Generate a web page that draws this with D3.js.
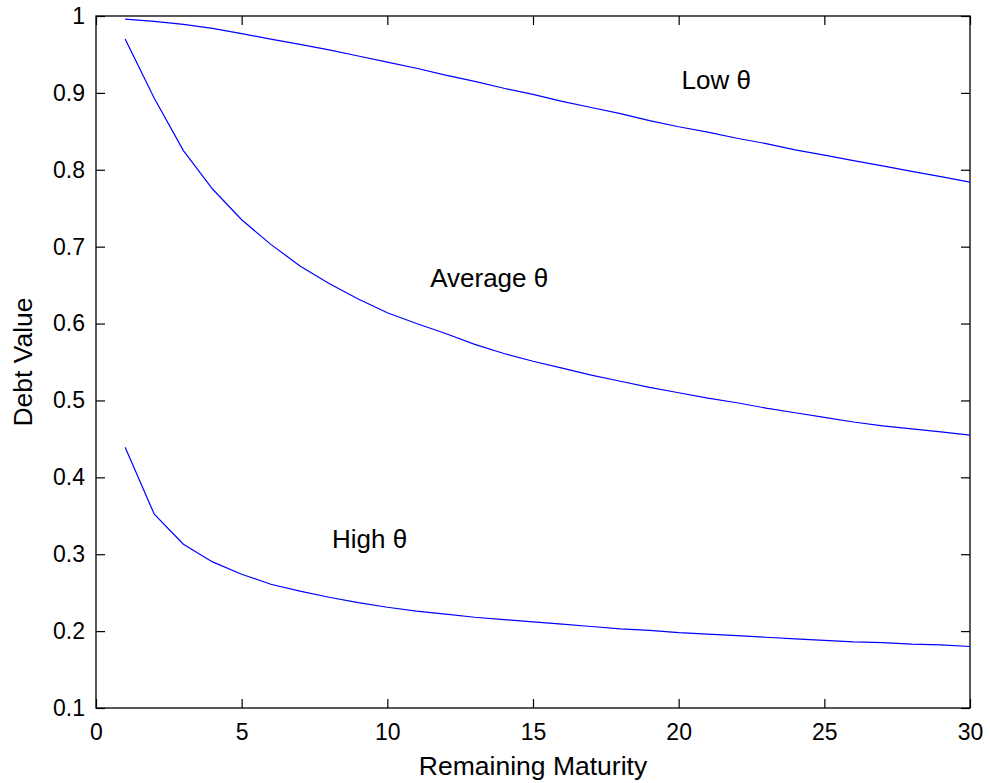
<!DOCTYPE html>
<html>
<head>
<meta charset="utf-8">
<script src="https://cdn.jsdelivr.net/npm/d3@7"></script>
<style>
  html, body { margin: 0; padding: 0; background: #fff; }
  svg { display: block; font-family: "Liberation Sans", Arial, sans-serif; }
</style>
</head>
<body>
<div id="chart"></div>
<script>
// remaining maturity (years)
const maturity = d3.range(1, 31);

// debt value for each theta level
const lowTheta = [0.996, 0.993, 0.989, 0.984, 0.977, 0.970, 0.963, 0.956, 0.948, 0.940,
                  0.932, 0.923, 0.915, 0.906, 0.898, 0.889, 0.881, 0.873, 0.864, 0.856,
                  0.849, 0.841, 0.834, 0.826, 0.819, 0.812, 0.805, 0.798, 0.791, 0.784];
const avgTheta = [0.970, 0.893, 0.825, 0.775, 0.735, 0.703, 0.675, 0.652, 0.632, 0.614,
                  0.600, 0.587, 0.573, 0.561, 0.551, 0.542, 0.533, 0.525, 0.517, 0.510,
                  0.503, 0.497, 0.490, 0.484, 0.478, 0.472, 0.467, 0.463, 0.459, 0.455];
const highTheta = [0.439, 0.352, 0.313, 0.290, 0.274, 0.261, 0.252, 0.244, 0.237, 0.231,
                   0.226, 0.222, 0.218, 0.215, 0.212, 0.209, 0.206, 0.203, 0.201, 0.198,
                   0.196, 0.194, 0.192, 0.190, 0.188, 0.186, 0.185, 0.183, 0.182, 0.180];

const xTicks = [0, 5, 10, 15, 20, 25, 30];
const yTicks = [0.1, 0.2, 0.3, 0.4, 0.5, 0.6, 0.7, 0.8, 0.9, 1];

// text annotations, in data coordinates
const labelText = ["Low \u03B8", "Average \u03B8", "High \u03B8"];
const labelX = [20.1, 11.47, 8.1];
const labelY = [0.917, 0.66, 0.32];

const WIDTH = 990, HEIGHT = 783;
const margin = {left: 96, right: 20, top: 16, bottom: 75};
const TICK = 9;
const LINE_COLOR = "#0000ff";

const svg = d3.select("#chart").append("svg")
    .attr("width", WIDTH)
    .attr("height", HEIGHT);

const x = d3.scaleLinear().domain([0, 30]).range([margin.left, WIDTH - margin.right]);
const y = d3.scaleLinear().domain([0.1, 1]).range([HEIGHT - margin.bottom, margin.top]);

// axes, ticks pointing inward like matlab
svg.append("g")
    .attr("transform", "translate(0," + y(0.1) + ")")
    .call(d3.axisBottom(x).tickValues(xTicks).tickSizeInner(-TICK).tickSizeOuter(0).tickPadding(16).tickFormat(d3.format("d")))
    .call(g => g.select(".domain").remove());
svg.append("g")
    .attr("transform", "translate(0," + y(1) + ")")
    .call(d3.axisTop(x).tickValues(xTicks).tickSizeInner(-TICK).tickSizeOuter(0).tickFormat(""))
    .call(g => g.select(".domain").remove());
svg.append("g")
    .attr("transform", "translate(" + x(0) + ",0)")
    .call(d3.axisLeft(y).tickValues(yTicks).tickSizeInner(-TICK).tickSizeOuter(0).tickPadding(11).tickFormat(d => d === 1 ? "1" : d3.format(".1f")(d)))
    .call(g => g.select(".domain").remove());
svg.append("g")
    .attr("transform", "translate(" + x(30) + ",0)")
    .call(d3.axisRight(y).tickValues(yTicks).tickSizeInner(-TICK).tickSizeOuter(0).tickFormat(""))
    .call(g => g.select(".domain").remove());

svg.selectAll(".tick line").attr("stroke", "#000").attr("stroke-width", 1.2);
svg.selectAll(".tick text").attr("font-size", 23).attr("fill", "#000")
    .attr("font-family", "'Liberation Sans', Arial, sans-serif");

// box
svg.append("rect")
    .attr("x", x(0)).attr("y", y(1))
    .attr("width", x(30) - x(0)).attr("height", y(0.1) - y(1))
    .attr("fill", "none").attr("stroke", "#000").attr("stroke-width", 1.3);

const line = d3.line().x((d, i) => x(maturity[i])).y(d => y(d));

[lowTheta, avgTheta, highTheta].forEach(s => {
    svg.append("path")
        .datum(s)
        .attr("d", line)
        .attr("fill", "none")
        .attr("stroke", LINE_COLOR)
        .attr("stroke-width", 1.2);
});

svg.selectAll(".note")
    .data(labelText)
    .enter().append("text")
    .attr("class", "note")
    .attr("x", (d, i) => x(labelX[i]))
    .attr("y", (d, i) => y(labelY[i]))
    .attr("dy", "0.35em")
    .attr("font-size", 26)
    .text(d => d);

svg.append("text")
    .attr("x", (x(0) + x(30)) / 2)
    .attr("y", 775)
    .attr("text-anchor", "middle")
    .attr("font-size", 26.5)
    .text("Remaining Maturity");

svg.append("text")
    .attr("transform", "translate(32," + (y(0.1) + y(1)) / 2 + ") rotate(-90)")
    .attr("text-anchor", "middle")
    .attr("font-size", 26.5)
    .text("Debt Value");
</script>
</body>
</html>
